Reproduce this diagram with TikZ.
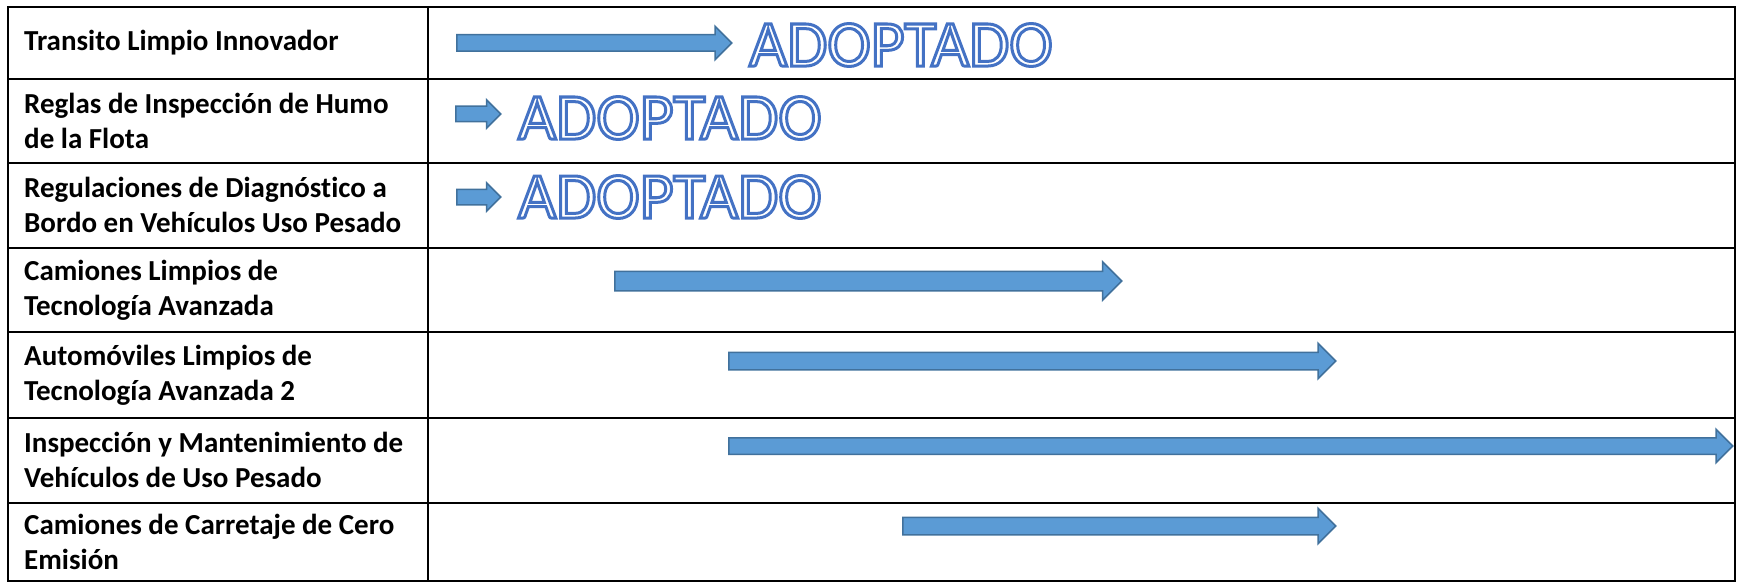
\documentclass[tikz,border=0pt]{standalone}
\usepackage{fontspec}
\setmainfont{Carlito}[Ligatures=NoCommon]
\usetikzlibrary{shapes.arrows}
\usetikzlibrary{positioning}

\definecolor{flechafill}{HTML}{5B9BD5}
\definecolor{flechaline}{HTML}{41719C}
% texto hueco: relleno blanco, trazo azul
\newcommand{\adoptado}{\special{pdf:literal direct 2 Tr 3 w 0.267 0.447 0.769 RG}ADOPTADO\special{pdf:literal direct 0 Tr}}

\tikzset{
	fila/.style={anchor=west, align=left, inner sep=0pt, font=\fontsize{29}{35}\selectfont\bfseries},
	flecha/.style n args={2}{single arrow, draw=flechaline, fill=flechafill, line width=1.5pt,
		inner xsep=0pt, inner ysep=#1, anchor=tail, single arrow head extend=#2},
	adopt/.style={anchor=west, inner sep=0pt, text=white, font=\fontsize{65.5}{70}\selectfont},
}

\begin{document}
\begin{tikzpicture}[x=1pt,y=-1pt]
		\def\xl{8}
		\def\xm{428}
		\def\xr{1735}
		\useasboundingbox (0,0) rectangle (1737,583);
		% tabla
		\draw[line width=2.5pt] (\xl,7) rectangle (\xr,581);
		\draw[line width=2.5pt] (\xm,7) -- (\xm,581);
		\foreach \y in {79,163,248,332,418,503}
			\draw[line width=2.5pt] (\xl,\y) -- (\xr,\y);
		% programas
		\node[fila] (p1) at (24,43) {Transito Limpio Innovador};
		\node[fila] (p2) at (24,121) {Reglas de Inspección de Humo\\de la Flota};
		\node[fila] (p3) at (24,205) {Regulaciones de Diagnóstico a\\Bordo en Vehículos Uso Pesado};
		\node[fila] (p4) at (24,290) {Camiones Limpios de\\Tecnología Avanzada};
		\node[fila] (p5) at (24,375) {Automóviles Limpios de\\Tecnología Avanzada 2};
		\node[fila] (p6) at (24,460) {Inspección y Mantenimiento de\\Vehículos de Uso Pesado};
		\node[fila] (p7) at (24,542) {Camiones de Carretaje de Cero\\Emisión};
		% flechas
		\node[flecha={7.5pt}{8.5pt}, minimum height=275pt] (f1) at (456,43) {};
		\node[flecha={7pt}{6.5pt}, minimum height=45pt] (f2) at (455,114) {};
		\node[flecha={7pt}{6.5pt}, minimum height=44pt] (f3) at (456,197) {};
		\node[flecha={9pt}{9.5pt}, minimum height=507pt] (f4) at (614,281) {};
		\node[flecha={8pt}{9pt}, minimum height=607pt] (f5) at (728,361) {};
		\node[flecha={7.5pt}{8.5pt}, minimum height=1004pt] (f6) at (728,446) {};
		\node[flecha={8pt}{9pt}, minimum height=433pt] (f7) at (902,526) {};
		% adoptados
		\node[adopt] (d1) at (749,45) {\adoptado};
		\node[adopt] (d2) at (518,118) {\adoptado};
		\node[adopt] (d3) at (518,197) {\adoptado};
	\end{tikzpicture}
\end{document}
